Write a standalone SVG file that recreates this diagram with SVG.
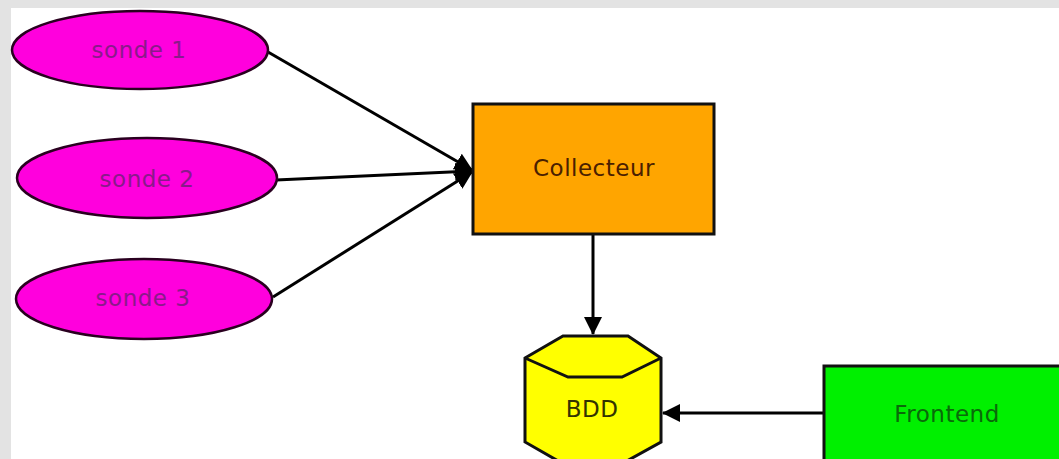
<svg xmlns="http://www.w3.org/2000/svg" width="1059" height="459" viewBox="0 0 1059 459">
<defs>
<style>
.lbl{font-family:"DejaVu Sans",sans-serif;font-size:23px;letter-spacing:0.5px;text-anchor:middle}
.sonde{fill:#ff00dd;stroke:#2a0020;stroke-width:2.5}
.edge{stroke:#000;stroke-width:3;fill:none;marker-end:url(#ah)}
</style>
<marker id="ah" markerUnits="userSpaceOnUse" markerWidth="20" markerHeight="20" refX="17" refY="9" orient="auto">
<path d="M0,0 L18,9 L0,18 z" fill="#000"/>
</marker>
</defs>
<rect x="0" y="0" width="1059" height="459" fill="#ffffff"/>
<rect x="0" y="0" width="1059" height="8" fill="#e3e3e3"/>
<rect x="0" y="0" width="11" height="459" fill="#e3e3e3"/>
<g id="connectors">
<line class="edge" x1="268" y1="52" x2="472" y2="170"/>
<line class="edge" x1="276" y1="180" x2="472" y2="171"/>
<line class="edge" x1="273" y1="297" x2="472" y2="172"/>
<line class="edge" x1="593" y1="235" x2="593" y2="334"/>
<line class="edge" x1="823" y1="413" x2="663" y2="413"/>
</g>
<g id="sonde1">
<ellipse class="sonde" cx="140" cy="50" rx="128" ry="39"/>
<text class="lbl" x="139" y="58" fill="#8a1a8a">sonde 1</text>
</g>
<g id="sonde2">
<ellipse class="sonde" cx="147" cy="178" rx="130" ry="40"/>
<text class="lbl" x="147" y="187" fill="#8a1a8a">sonde 2</text>
</g>
<g id="sonde3">
<ellipse class="sonde" cx="144" cy="299" rx="128" ry="40"/>
<text class="lbl" x="143" y="306" fill="#8a1a8a">sonde 3</text>
</g>
<g id="collecteur">
<rect x="473" y="104" width="241" height="130" fill="#ffa500" stroke="#111" stroke-width="3"/>
<text class="lbl" x="594" y="176" fill="#4a2000">Collecteur</text>
</g>
<g id="bdd">
<path d="M525,358 L563,336 L628,336 L661,358 L661,442 L625,462 L560,462 L525,442 z" fill="#ffff00" stroke="#111" stroke-width="3"/>
<path d="M525,358 L568,377 L622,377 L661,358" fill="none" stroke="#111" stroke-width="3"/>
<text class="lbl" x="592" y="417" fill="#333300">BDD</text>
</g>
<g id="frontend">
<rect x="824" y="366" width="245" height="100" fill="#00f000" stroke="#111" stroke-width="3"/>
<text class="lbl" x="947" y="422" fill="#0a6a0a">Frontend</text>
</g>
</svg>
